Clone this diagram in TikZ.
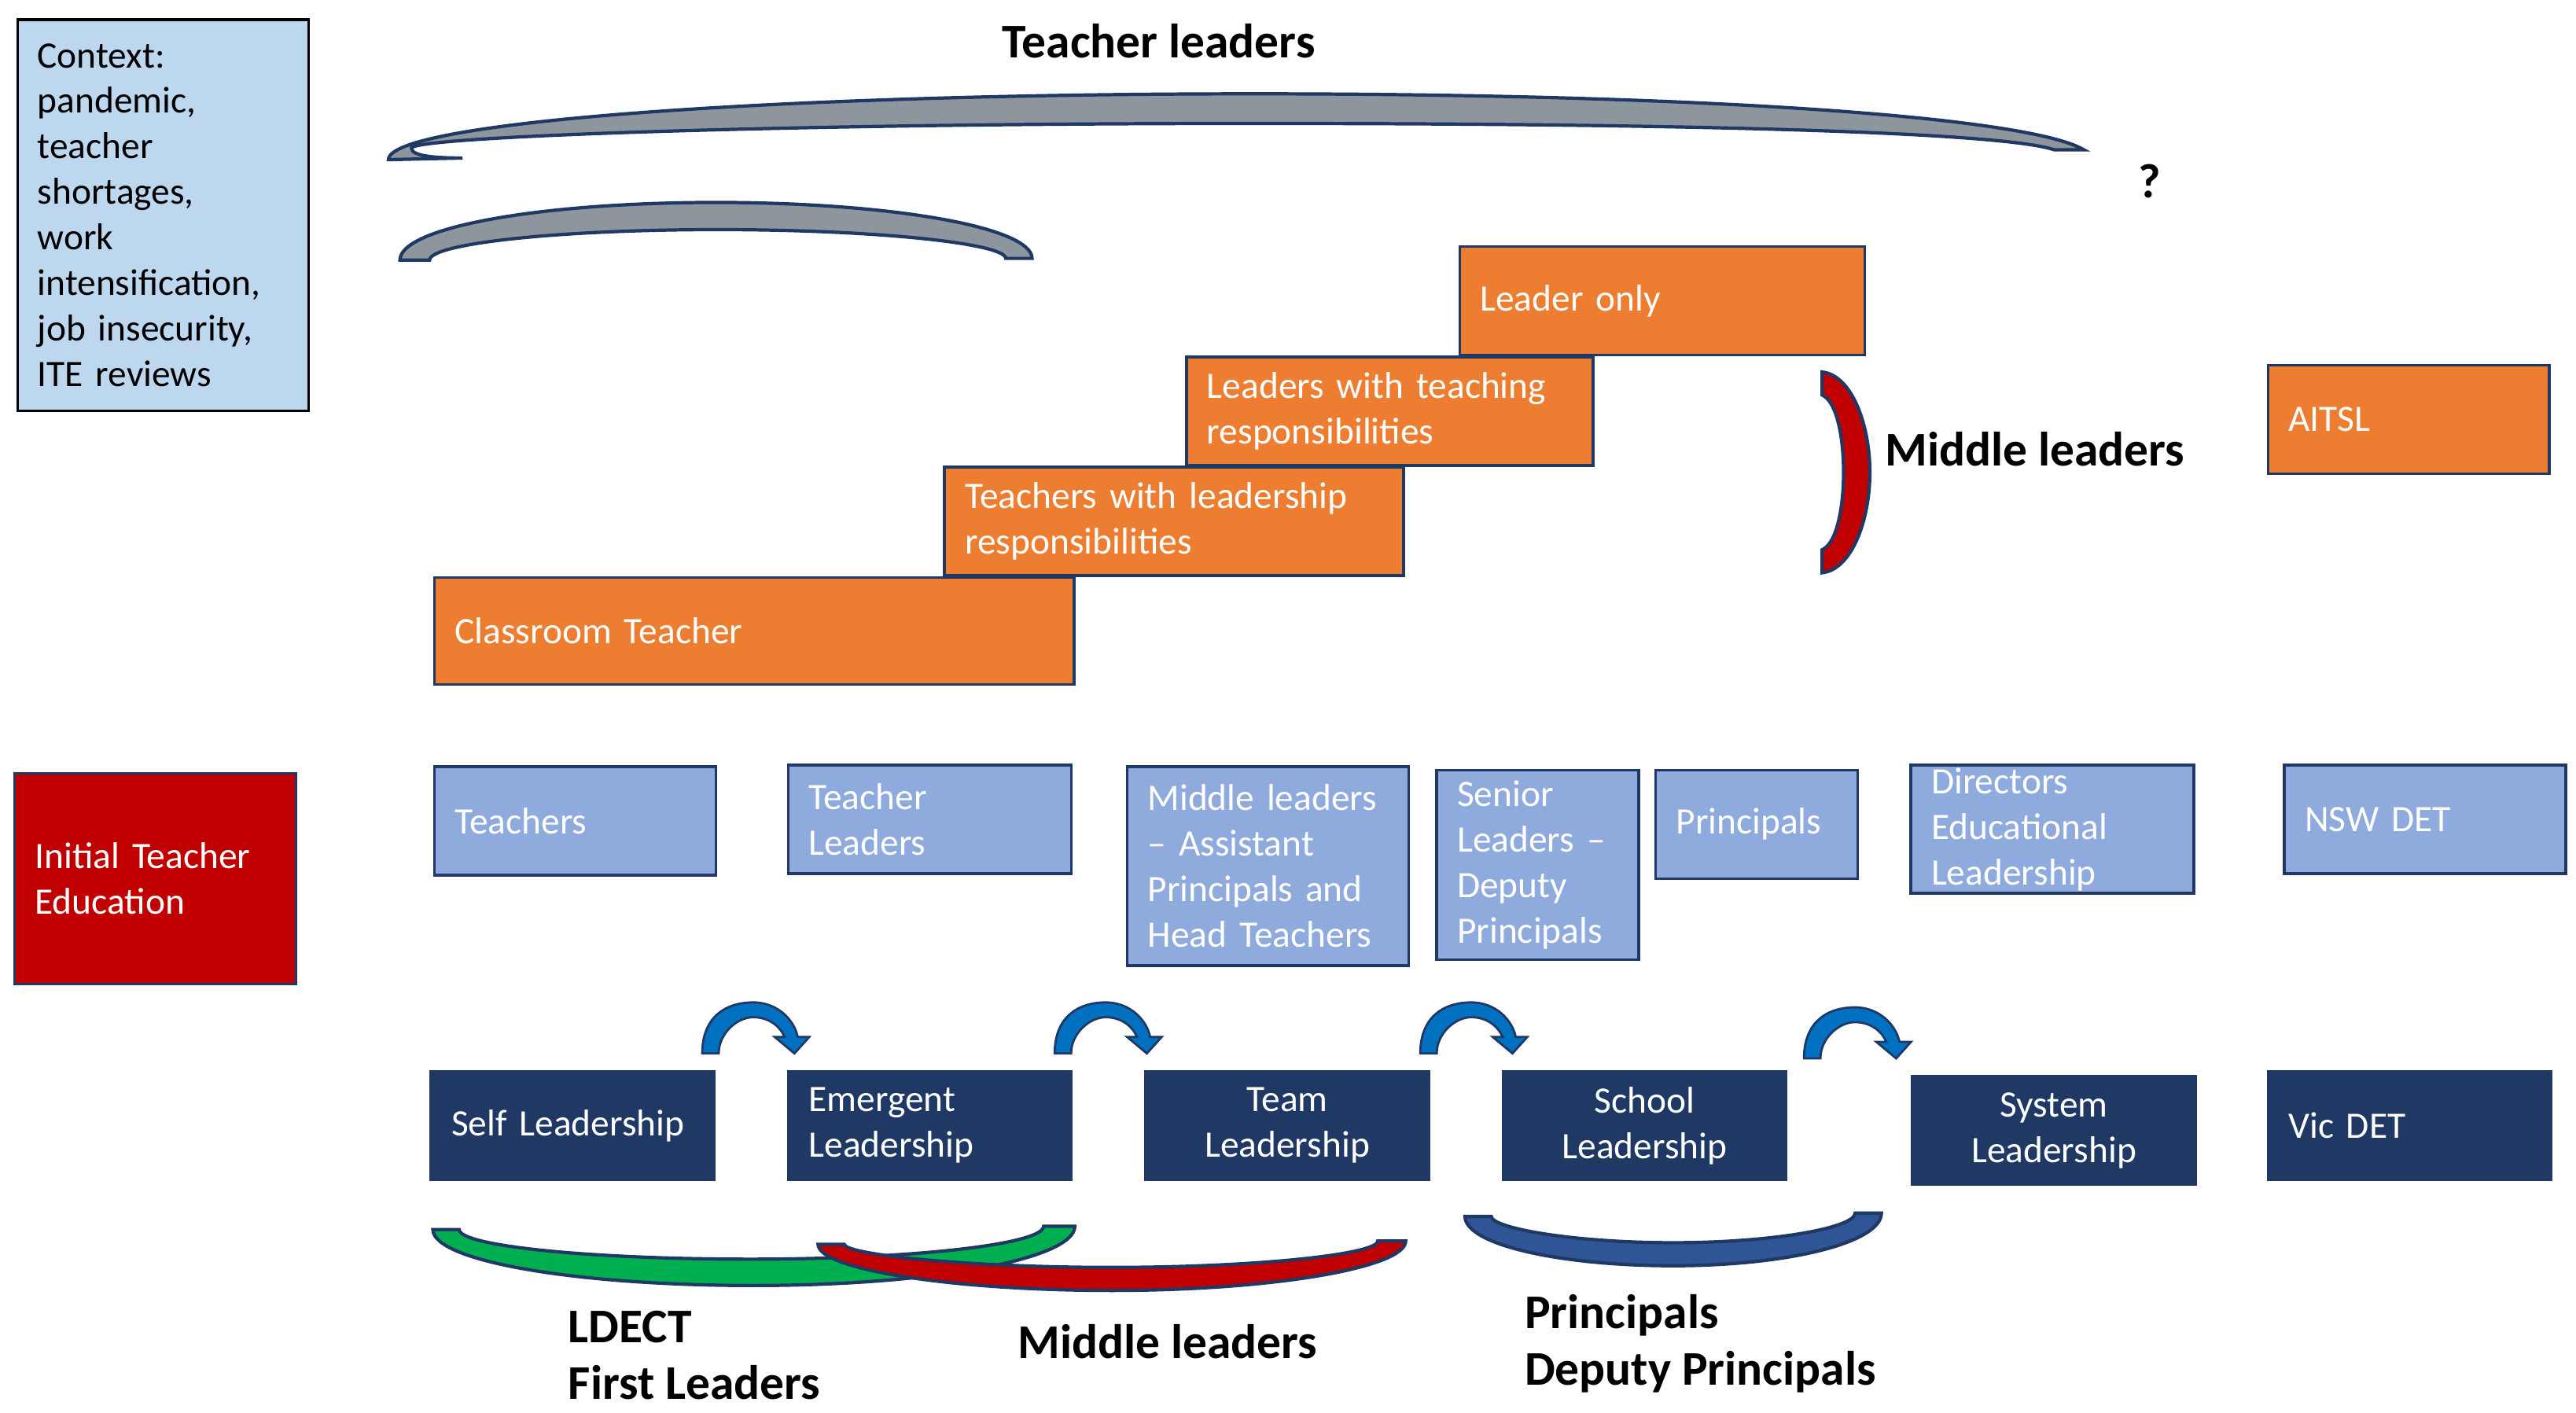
\documentclass[tikz,border=0pt]{standalone}
\usepackage{fontspec}
\setmainfont{Carlito}
\usetikzlibrary{positioning, calc}

\definecolor{navy}{HTML}{1F3864}
\definecolor{ladderorange}{HTML}{ED7D31}
\definecolor{roleblue}{HTML}{8FAADC}
\definecolor{stageblue}{HTML}{203864}
\definecolor{contextblue}{HTML}{BDD7EE}
\definecolor{itered}{HTML}{C00000}
\definecolor{arcgrey}{HTML}{8E969D}
\definecolor{hopblue}{HTML}{0070C0}
\definecolor{arcgreen}{HTML}{00B050}
\definecolor{arcblue}{HTML}{2F5597}

\begin{document}
\begin{tikzpicture}[x=0.02093cm, y=-0.02093cm,
                tbox/.style={draw=navy, line width=1pt, text=white, font=\fontsize{13.5}{16.5}\selectfont,
                             inner xsep=0.26cm, inner ysep=0pt, minimum height=1.38cm, align=left, anchor=north west},
                ladder/.style={tbox, fill=ladderorange},
                role/.style={tbox, fill=roleblue},
                stage/.style={tbox, fill=stageblue, text width=3.08cm},
                heading/.style={font=\fontsize{17.5}{20.5}\selectfont\bfseries, inner sep=0pt, align=left},
                band/.style={draw=navy, line width=1.2pt},
                hop/.pic={\filldraw[fill=hopblue, draw=navy, line width=0.8pt]
                    (0,0) .. controls (0,-22) and (14,-31) .. (31,-31) .. controls (46,-31) and (56,-20) .. (58,-10)
                    -- (65,-10) -- (56,0) -- (44,-10) -- (50,-10)
                    .. controls (47,-17) and (40,-22) .. (31,-22) .. controls (21,-22) and (10,-12) .. (10,0) -- cycle;}]

                \useasboundingbox (0,0) rectangle (1565,858);

                % Context and initial teacher education (left column)
                \node[tbox, draw=black, fill=contextblue, text=black, text width=3.2cm, minimum height=4.98cm,
                      inner xsep=0.25cm] (context) at (10,11)
                    {Context:\\pandemic,\\teacher\\shortages,\\work\\intensification,\\job insecurity,\\ITE reviews};
                \node[role, fill=itered, text width=3.06cm, minimum height=2.68cm] (ite) at (8,469)
                    {Initial Teacher\\Education};

                % Teacher leader arcs
                \filldraw[band, fill=arcgrey] (236,97) .. controls (236,74) and (472,57) .. (762,57)
                    .. controls (1020,57) and (1230,70) .. (1266,91) -- (1248,91)
                    .. controls (1215,80) and (1020,75) .. (762,75) .. controls (479,75) and (250,83) .. (250,90)
                    .. controls (250,95) and (265,96) .. (281,96) -- cycle;
                \filldraw[band, fill=arcgrey] (243,158) .. controls (243,138) and (329,123) .. (435,123)
                    .. controls (541,123) and (627,138) .. (627,157) -- (611,157)
                    .. controls (611,148) and (533,139.5) .. (436,139.5) .. controls (339,139.5) and (261,148) .. (261,158) -- cycle;
                \node[heading] (tlhead) at (704,25) {Teacher leaders};
                \node[heading] (query) at (1306,110) {?};

                % Career ladder (orange)
                \node[ladder, text width=7.62cm, minimum height=1.36cm] (classroom) at (263,350) {Classroom Teacher};
                \node[ladder, text width=5.32cm] (tlr) at (573,283) {Teachers with leadership\\responsibilities};
                \node[ladder, text width=4.65cm] (ltr) at (720,216) {Leaders with teaching\\responsibilities};
                \node[ladder, text width=4.63cm] (leaderonly) at (886,149) {Leader only};
                \node[ladder, text width=3.06cm] (aitsl) at (1377,221) {AITSL};

                % Middle leaders bracket
                \filldraw[band, fill=itered] (1107,226) .. controls (1125,228) and (1136,258) .. (1136,287)
                    .. controls (1136,316) and (1125,346) .. (1107,348) -- (1107,334)
                    .. controls (1116,330) and (1120,308) .. (1120,287) .. controls (1120,266) and (1116,244) .. (1107,240) -- cycle;
                \node[heading, anchor=west] (mlright) at (1145,273) {Middle leaders};

                % Roles (light blue)
                \node[role, text width=3.06cm] (teachers) at (263,465) {Teachers};
                \node[role, text width=3.08cm] (teacherleaders) at (478,464) {Teacher\\Leaders};
                \node[role, text width=3.06cm, minimum height=2.53cm] (middle) at (684,465)
                    {Middle leaders\\– Assistant\\Principals and\\Head Teachers};
                \node[role, text width=2.05cm, minimum height=2.41cm] (senior) at (872,467)
                    {Senior\\Leaders –\\Deputy\\Principals};
                \node[role, text width=2.05cm] (principals) at (1005,467) {Principals};
                \node[role, text width=3.08cm, minimum height=1.63cm] (directors) at (1160,464)
                    {Directors\\Educational\\Leadership};
                \node[role, text width=3.06cm] (nswdet) at (1387,464) {NSW DET};

                % Leadership stages (dark blue)
                \node[stage] (self) at (261,650) {Self Leadership};
                \node[stage, right=0.91cm of self] (emergent) {Emergent\\Leadership};
                \node[stage, align=center, right=0.91cm of emergent] (team) {Team\\Leadership};
                \node[stage, align=center, right=0.91cm of team] (school) {School\\Leadership};
                \node[stage, align=center] (system) at (1161,653) {System\\Leadership};
                \node[stage] (vicdet) at (1377,650) {Vic DET};

                % Hops between stages
                \pic at ($(self.north east)+(-8,-10)$) {hop};
                \pic at ($(emergent.north east)+(-11,-10)$) {hop};
                \pic at ($(team.north east)+(-6,-10)$) {hop};
                \pic at ($(school.north east)+(10,-7)$) {hop};

                % Groupings below the stages
                \filldraw[band, fill=arcgreen] (263,747) .. controls (263,766) and (349,781) .. (458,781)
                    .. controls (566,781) and (653,765) .. (653,745) -- (634,745)
                    .. controls (634,756) and (554,765) .. (456,765) .. controls (358,765) and (279,757) .. (279,747) -- cycle;
                \filldraw[band, fill=itered] (497,756) .. controls (497,771) and (577,784) .. (675.5,784)
                    .. controls (774,784) and (854,770) .. (854,754) -- (837,754)
                    .. controls (837,762) and (764,770) .. (675,770) .. controls (586,770) and (513,762) .. (513,756) -- cycle;
                \filldraw[band, fill=arcblue] (890,739) .. controls (890,756) and (947,769) .. (1016.5,769)
                    .. controls (1086,769) and (1143,755) .. (1143,737) -- (1127,737)
                    .. controls (1127,746) and (1077,755) .. (1016.5,755) .. controls (955,755) and (906,746) .. (906,739) -- cycle;

                \node[heading, anchor=north west] (ldect) at (345,796) {LDECT\\First Leaders};
                \node[heading, anchor=west] (mlbottom) at (618,815) {Middle leaders};
                \node[heading, anchor=north west] (princ) at (926,786) {Principals\\Deputy Principals};
            \end{tikzpicture}
\end{document}
